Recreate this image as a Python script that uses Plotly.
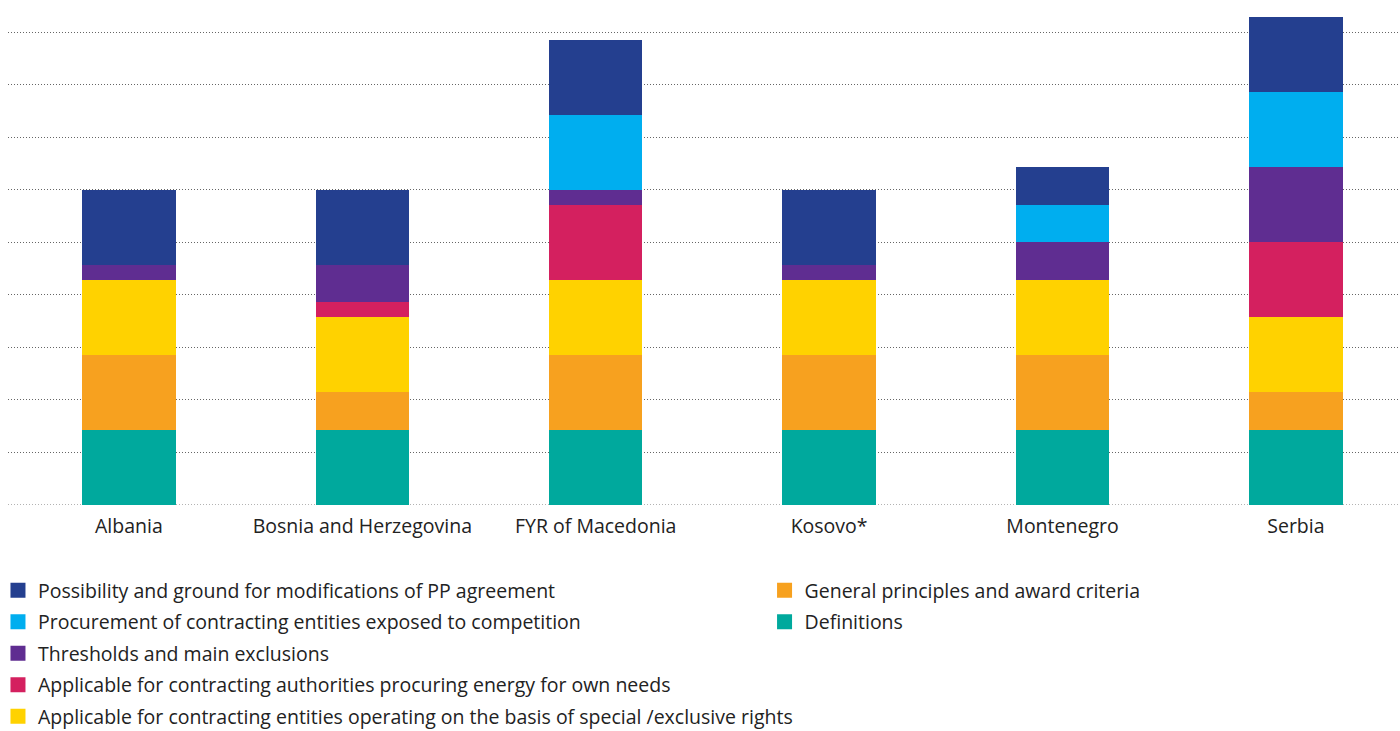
import plotly.graph_objects as go

categories = ["Albania", "Bosnia and Herzegovina", "FYR of Macedonia", "Kosovo*", "Montenegro", "Serbia"]

definitions = [1, 1, 1, 1, 1, 1]
general = [1, 0.5, 1, 1, 1, 0.5]
special = [1, 1, 1, 1, 1, 1]
energy = [0, 0.2, 1, 0, 0, 1]
thresholds = [0.2, 0.5, 0.2, 0.2, 0.5, 1]
procurement = [0, 0, 1, 0, 0.5, 1]
possibility = [1, 1, 1, 1, 0.5, 1]

series = [
    ("Definitions", definitions, "#00a99d", "legend2"),
    ("General principles and award criteria", general, "#f7a11f", "legend2"),
    ("Applicable for contracting entities operating on the basis of special /exclusive rights", special, "#ffd200", "legend"),
    ("Applicable for contracting authorities procuring energy for own needs", energy, "#d4205f", "legend"),
    ("Thresholds and main exclusions", thresholds, "#5f2d91", "legend"),
    ("Procurement of contracting entities exposed to competition", procurement, "#00aeef", "legend"),
    ("Possibility and ground for modifications of PP agreement", possibility, "#243f8f", "legend"),
]

fig = go.Figure()
for name, vals, color, lg in series:
    fig.add_trace(go.Bar(x=categories, y=vals, name=name, marker=dict(color=color, line=dict(width=0)),
                         width=0.40, showlegend=False))

legend_order = [6, 5, 4, 3, 2, 1, 0]
for idx in legend_order:
    name, vals, color, lg = series[idx]
    fig.add_trace(go.Scatter(x=[None], y=[None], mode="markers", name=name,
                             marker=dict(symbol="square", size=15, color=color),
                             legend=lg, legendgroup=name, showlegend=True))

grid_color = "#666666"
font = "Open Sans, Noto Sans, sans-serif"
fig.update_layout(
    width=1400, height=731,
    barmode="stack",
    plot_bgcolor="white", paper_bgcolor="white",
    margin=dict(l=8, r=0, t=0, b=226, autoexpand=False),
    font=dict(family=font, size=19.5, color="#222222"),
    xaxis=dict(range=[-0.518, 5.446], showgrid=False, showline=False, ticks="",
               tickfont=dict(size=19.5, color="#222222"), ticklabelstandoff=7, fixedrange=True),
    yaxis=dict(range=[0, 6.733], dtick=0.7, tick0=0, showgrid=True, gridcolor=grid_color,
               griddash="1px,2px", gridwidth=1, zeroline=False, showticklabels=False, showline=False),
    legend=dict(x=-0.0072, y=-0.131, xanchor="left", yanchor="top", orientation="v",
                traceorder="grouped", tracegroupgap=3.1, font=dict(size=19.5, color="#222222"),
                bgcolor="rgba(0,0,0,0)", itemclick=False),
    legend2=dict(x=0.5435, y=-0.131, xanchor="left", yanchor="top", orientation="v",
                 traceorder="grouped", tracegroupgap=3.1, font=dict(size=19.5, color="#222222"),
                 bgcolor="rgba(0,0,0,0)", itemclick=False),
    shapes=[dict(type="line", xref="paper", yref="y", x0=0, x1=1, y0=0, y1=0,
                 line=dict(color=grid_color, width=1, dash="1px,2px"), layer="below")],
)

fig.write_html("out.html")
